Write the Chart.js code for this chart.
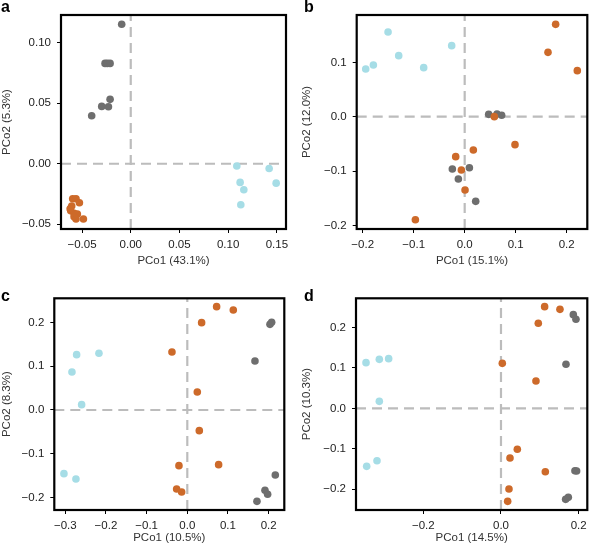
<!DOCTYPE html>
<html>
<head>
<meta charset="utf-8">
<script src="https://cdn.jsdelivr.net/npm/chart.js@4/dist/chart.umd.min.js"></script>
<style>
  body { margin: 0; background: #fff; }
  #wrap { position: relative; width: 600px; height: 550px; }
  canvas { position: absolute; }
  .lbl { position: absolute; font: bold 16px "Liberation Sans", Arial, sans-serif; line-height: 16px; color: #000; }
</style>
</head>
<body>
<div id="wrap">
  <canvas id="pa" width="300" height="275" style="left:0;top:0"></canvas>
  <canvas id="pb" width="300" height="275" style="left:300px;top:0"></canvas>
  <canvas id="pc" width="300" height="275" style="left:0;top:275px"></canvas>
  <canvas id="pd" width="300" height="275" style="left:300px;top:275px"></canvas>
  <div class="lbl" style="left:1px;top:-1px">a</div>
  <div class="lbl" style="left:304px;top:-1px">b</div>
  <div class="lbl" style="left:1px;top:288px">c</div>
  <div class="lbl" style="left:304px;top:288px">d</div>
</div>
<script>
// ---- panel a ----
const aXTitle = 'PCo1 (43.1%)';
const aYTitle = 'PCo2 (5.3%)';
const aXRange = [-0.0716, 0.1594];
const aYRange = [-0.0539, 0.1229];
const aXTicks = [-0.05, 0, 0.05, 0.1, 0.15];
const aYTicks = [-0.05, 0, 0.05, 0.1];
const aOrange = [[-0.0596, -0.0289], [-0.0562, -0.0289], [-0.0527, -0.0322], [-0.0606, -0.035],
  [-0.0616, -0.0388], [-0.0582, -0.041], [-0.0548, -0.0416], [-0.0582, -0.0438],
  [-0.0562, -0.0457], [-0.0486, -0.0457], [-0.0622, -0.0372]];
const aGray = [[-0.0093, 0.1152], [-0.0264, 0.0829], [-0.024, 0.0829], [-0.0212, 0.0829],
  [-0.0212, 0.0532], [-0.0298, 0.0474], [-0.0229, 0.0471], [-0.0401, 0.0397]];
const aCyan = [[0.1089, -0.0019], [0.1421, -0.0039], [0.1123, -0.0154], [0.1493, -0.016],
  [0.1161, -0.0215], [0.113, -0.0339]];

// ---- panel b ----
const bXTitle = 'PCo1 (15.1%)';
const bYTitle = 'PCo2 (12.0%)';
const bXRange = [-0.2118, 0.2405];
const bYRange = [-0.2067, 0.1871];
const bXTicks = [-0.2, -0.1, 0, 0.1, 0.2];
const bYTicks = [-0.2, -0.1, 0, 0.1];
const bOrange = [[0.1784, 0.1699], [0.1634, 0.1184], [0.2209, 0.0847], [0.0987, -0.0515],
  [0.0582, 0.0], [0.017, -0.0613], [-0.0176, -0.0736], [-0.0065, -0.0982],
  [0.0007, -0.135], [-0.0967, -0.1896]];
const bGray = [[0.0471, 0.0043], [0.0634, 0.0049], [0.0725, 0.0025], [-0.0242, -0.0963],
  [0.0092, -0.0939], [-0.0124, -0.1147], [0.0216, -0.1558]];
const bCyan = [[-0.1941, 0.0877], [-0.1791, 0.0951], [-0.1503, 0.1558], [-0.1294, 0.1123],
  [-0.0804, 0.0902], [-0.0255, 0.1307]];

// ---- panel c ----
const cXTitle = 'PCo1 (10.5%)';
const cYTitle = 'PCo2 (8.3%)';
const cXRange = [-0.327, 0.2385];
const cYRange = [-0.229, 0.2557];
const cXTicks = [-0.3, -0.2, -0.1, 0, 0.1, 0.2];
const cYTicks = [-0.2, -0.1, 0, 0.1, 0.2];
const cOrange = [[0.0721, 0.2366], [0.1131, 0.229], [0.0352, 0.2], [-0.0377, 0.1328],
  [0.0246, 0.0412], [0.0295, -0.0473], [-0.0205, -0.1275], [0.077, -0.1252],
  [-0.0262, -0.1809], [-0.0139, -0.1878]];
const cGray = [[0.2033, 0.196], [0.2074, 0.201], [0.1664, 0.1122], [0.2164, -0.1489],
  [0.191, -0.184], [0.1975, -0.1931], [0.1713, -0.2092]];
const cCyan = [[-0.2721, 0.1267], [-0.2172, 0.1298], [-0.2836, 0.087], [-0.2598, 0.0122],
  [-0.3033, -0.1458], [-0.2738, -0.158]];

// ---- panel d ----
const dXTitle = 'PCo1 (14.5%)';
const dYTitle = 'PCo2 (10.3%)';
const dXRange = [-0.3734, 0.2223];
const dYRange = [-0.2515, 0.2722];
const dXTicks = [-0.2, 0, 0.2];
const dYTicks = [-0.2, -0.1, 0, 0.1, 0.2];
const dOrange = [[0.1124, 0.2515], [0.1519, 0.2449], [0.0961, 0.2103], [0.0034, 0.1113],
  [0.0901, 0.0676], [0.0421, -0.1014], [0.0232, -0.1229], [0.1142, -0.1567],
  [0.0206, -0.1996], [0.0172, -0.2301]];
const dGray = [[0.1863, 0.2318], [0.1931, 0.2202], [0.1674, 0.1089], [0.1905, -0.1545],
  [0.1948, -0.155], [0.1665, -0.2252], [0.1734, -0.2202]];
const dCyan = [[-0.3476, 0.113], [-0.3133, 0.1212], [-0.2893, 0.1229], [-0.3133, 0.0173],
  [-0.3459, -0.1435], [-0.3193, -0.1295]];

const ORANGE = '#cd6a2a';
const GRAY = '#6e6e6e';
const CYAN = '#a6dde6';
const DASH = '#bcbcbc';
const FONT = { family: '"Liberation Sans", Arial, sans-serif', size: 11.5 };

// рамка вокруг области графика
const framePlugin = {
  id: 'frame',
  afterDraw(chart) {
    const { ctx, chartArea: a } = chart;
    ctx.save();
    ctx.strokeStyle = '#000';
    ctx.lineWidth = 2.2;
    ctx.strokeRect(a.left, a.top, a.right - a.left, a.bottom - a.top);
    ctx.restore();
  }
};

const pts = arr => arr.map(p => ({ x: p[0], y: p[1] }));
const minus = s => s.replace('-', '\u2212');

function makePanel(id, p, box) {
  const zeroV = [{ x: 0, y: p.yRange[0] }, { x: 0, y: p.yRange[1] }];
  const zeroH = [{ x: p.xRange[0], y: 0 }, { x: p.xRange[1], y: 0 }];
  const dot = (data, color) => ({
    type: 'scatter', data: pts(data), backgroundColor: color, borderWidth: 0,
    pointRadius: 3.8, pointHoverRadius: 3.8
  });
  const dashLine = data => ({
    type: 'line', data, borderColor: DASH, borderWidth: 2.2, borderDash: [10, 6],
    pointRadius: 0, fill: false
  });

  new Chart(document.getElementById(id), {
    type: 'scatter',
    data: {
      datasets: [
        dot(p.orange, ORANGE),
        dot(p.gray, GRAY),
        dot(p.cyan, CYAN),
        dashLine(zeroV),
        dashLine(zeroH)
      ]
    },
    options: {
      responsive: false,
      animation: false,
      layout: { padding: { top: box.top, right: box.right, bottom: box.bottom, left: 0 } },
      plugins: { legend: { display: false }, tooltip: { enabled: false } },
      scales: {
        x: {
          type: 'linear', min: p.xRange[0], max: p.xRange[1],
          afterBuildTicks: s => { s.ticks = p.xTicks.map(v => ({ value: v })); },
          afterFit: s => { s.height = box.xh; },
          grid: { drawOnChartArea: false, drawTicks: true, tickLength: 4, tickColor: '#000', color: '#000' },
          border: { display: false },
          ticks: {
            color: '#222', font: FONT, padding: 5, maxRotation: 0,
            callback: v => minus(v.toFixed(p.dec))
          },
          title: { display: true, text: p.xTitle, color: '#333', font: FONT, padding: 0 }
        },
        y: {
          type: 'linear', min: p.yRange[0], max: p.yRange[1],
          afterBuildTicks: s => { s.ticks = p.yTicks.map(v => ({ value: v })); },
          afterFit: s => { s.width = box.yw; },
          grid: { drawOnChartArea: false, drawTicks: true, tickLength: 4, tickColor: '#000', color: '#000' },
          border: { display: false },
          ticks: {
            color: '#222', font: FONT, padding: 6,
            callback: v => minus(v.toFixed(p.dec))
          },
          title: { display: true, text: p.yTitle, color: '#333', font: FONT, padding: 0 }
        }
      }
    },
    plugins: [framePlugin]
  });
}

makePanel('pa', { xRange: aXRange, yRange: aYRange, xTicks: aXTicks, yTicks: aYTicks, dec: 2,
  xTitle: aXTitle, yTitle: aYTitle, orange: aOrange, gray: aGray, cyan: aCyan },
  { top: 15, right: 14, bottom: 7, xh: 39, yw: 61 });
makePanel('pb', { xRange: bXRange, yRange: bYRange, xTicks: bXTicks, yTicks: bYTicks, dec: 1,
  xTitle: bXTitle, yTitle: bYTitle, orange: bOrange, gray: bGray, cyan: bCyan },
  { top: 15, right: 12.7, bottom: 7, xh: 39, yw: 56.7 });
makePanel('pc', { xRange: cXRange, yRange: cYRange, xTicks: cXTicks, yTicks: cYTicks, dec: 1,
  xTitle: cXTitle, yTitle: cYTitle, orange: cOrange, gray: cGray, cyan: cCyan },
  { top: 23.3, right: 15.7, bottom: 5, xh: 35, yw: 54.3 });
makePanel('pd', { xRange: dXRange, yRange: dYRange, xTicks: dXTicks, yTicks: dYTicks, dec: 1,
  xTitle: dXTitle, yTitle: dYTitle, orange: dOrange, gray: dGray, cyan: dCyan },
  { top: 23.3, right: 12.7, bottom: 5, xh: 35, yw: 56 });
</script>
</body>
</html>
